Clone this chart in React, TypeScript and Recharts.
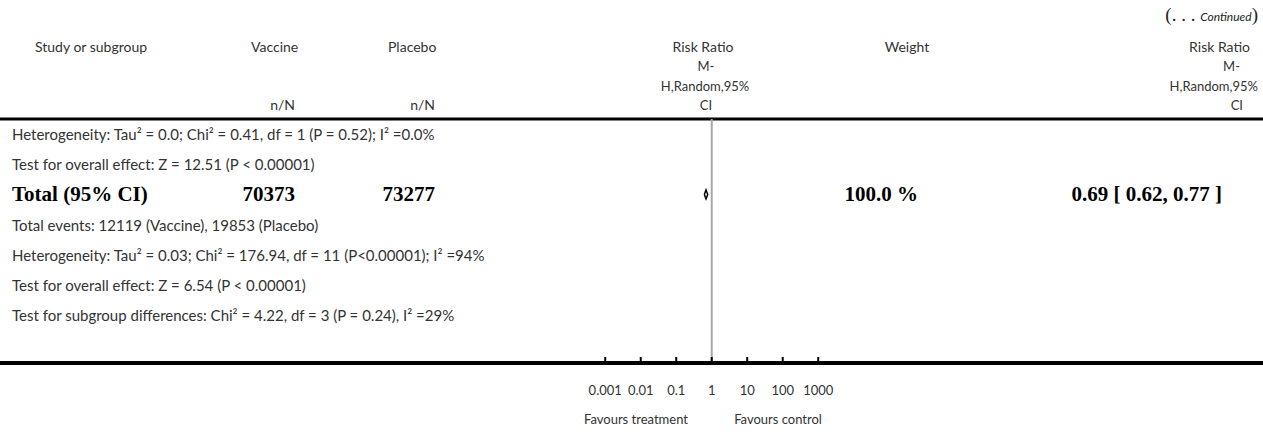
import React from "react";
import { ComposedChart, XAxis, YAxis, ReferenceLine, Line } from "recharts";

// log10 risk-ratio ticks and their labels
const TICKS = [-3, -2, -1, 0, 1, 2, 3];
const TICK_LABELS = ["0.001", "0.01", "0.1", "1", "10", "100", "1000"];

// summary (text) rows, by row index
const noteRows = [0, 1, 3, 4, 5, 6];
const noteTexts = [
  "Heterogeneity: Tau² = 0.0; Chi² = 0.41, df = 1 (P = 0.52); I² =0.0%",
  "Test for overall effect: Z = 12.51 (P < 0.00001)",
  "Total events: 12119 (Vaccine), 19853 (Placebo)",
  "Heterogeneity: Tau² = 0.03; Chi² = 176.94, df = 11 (P<0.00001); I² =94%",
  "Test for overall effect: Z = 6.54 (P < 0.00001)",
  "Test for subgroup differences: Chi² = 4.22, df = 3 (P = 0.24), I² =29%",
];

// overall total row
const totalRow = 2;
const totalLabel = "Total (95% CI)";
const totalVaccine = 70373;
const totalPlacebo = 73277;
const totalWeight = 100.0;
const totalRR = 0.69;
const totalLow = 0.62;
const totalHigh = 0.77;

const W = 1263;
const H = 432;
const PLOT_TOP = 119;
const AXIS_H = 69;
const X_DOMAIN = [-20.05, 15.53];
const Y_DOMAIN = [-0.5, 7.59];
const DIAMOND_HALF = 0.15;

const sans = "Lato, 'Open Sans', sans-serif";
const serif = "'Liberation Serif', 'Times New Roman', serif";

const rowY = (r: number) =>
  PLOT_TOP + ((r - Y_DOMAIN[0]) / (Y_DOMAIN[1] - Y_DOMAIN[0])) * (H - AXIS_H - PLOT_TOP);

const diamond = [
  { x: Math.log10(totalLow), y: totalRow },
  { x: Math.log10(totalRR), y: totalRow - DIAMOND_HALF },
  { x: Math.log10(totalHigh), y: totalRow },
  { x: Math.log10(totalRR), y: totalRow + DIAMOND_HALF },
  { x: Math.log10(totalLow), y: totalRow },
];

const TickMark = (props: any) => {
  const { x, y, payload, index } = props;
  return (
    <g>
      <line x1={x} x2={x} y1={y - 6} y2={y - 1} stroke="#000" strokeWidth={2} />
      <text x={x} y={y + 29} textAnchor="middle" dominantBaseline="middle" fontSize={13} fontFamily={sans} fill="#333">
        {TICK_LABELS[index] ?? String(payload.value)}
      </text>
    </g>
  );
};

type TxtProps = { x: number; y: number; align?: "left" | "center" | "right"; style?: React.CSSProperties; children: React.ReactNode };
const Txt = ({ x, y, align = "left", style, children }: TxtProps) => {
  const tx = align === "left" ? "0" : align === "center" ? "-50%" : "-100%";
  return (
    <div
      style={{
        position: "absolute", left: x, top: y, transform: `translate(${tx}, -50%)`,
        whiteSpace: "nowrap", lineHeight: 1, fontFamily: sans, fontSize: 15, color: "#333",
        ...style,
      }}
    >
      {children}
    </div>
  );
};

const bold: React.CSSProperties = { fontFamily: serif, fontWeight: 700, fontSize: 21, color: "#000" };
const head: React.CSSProperties = { fontSize: 14 };
const stack: React.CSSProperties = { fontSize: 13 };

export default function App() {
  const ty = rowY(totalRow);
  return (
    <div style={{ position: "absolute", left: 0, top: 0, width: W, height: H, background: "#fff" }}>
      <ComposedChart width={W} height={H} margin={{ top: PLOT_TOP, right: 0, bottom: 0, left: 0 }}>
        <XAxis
          type="number"
          dataKey="x"
          domain={X_DOMAIN}
          allowDataOverflow
          ticks={TICKS}
          interval={0}
          height={AXIS_H}
          tickSize={0}
          tickMargin={0}
          tickLine={false}
          axisLine={{ stroke: "#000", strokeWidth: 4 }}
          tick={<TickMark />}
        />
        <YAxis type="number" dataKey="y" domain={Y_DOMAIN} reversed hide allowDataOverflow />
        <ReferenceLine y={Y_DOMAIN[0]} stroke="#000" strokeWidth={3} />
        <ReferenceLine x={0} stroke="#a6a6a6" strokeWidth={2} />
        <Line
          data={diamond}
          dataKey="y"
          type="linear"
          stroke="#000"
          strokeWidth={1.5}
          dot={false}
          isAnimationActive={false}
        />
      </ComposedChart>

      {/* continued marker */}
      <Txt x={1258} y={14} align="right" style={{ fontFamily: serif, fontSize: 19, color: "#222" }}>
        (. . . <span style={{ fontFamily: sans, fontStyle: "italic", fontSize: 12 }}>Continued</span>)
      </Txt>

      {/* header */}
      <Txt x={35} y={47} style={head}>Study or subgroup</Txt>
      <Txt x={251} y={47} style={head}>Vaccine</Txt>
      <Txt x={388} y={47} style={head}>Placebo</Txt>
      <Txt x={295} y={105} align="right" style={head}>n/N</Txt>
      <Txt x={435} y={105} align="right" style={head}>n/N</Txt>
      <Txt x={703} y={47} align="center" style={head}>Risk Ratio</Txt>
      <Txt x={706} y={66} align="center" style={stack}>M-</Txt>
      <Txt x={705} y={86} align="center" style={stack}>H,Random,95%</Txt>
      <Txt x={706} y={105} align="center" style={stack}>CI</Txt>
      <Txt x={907} y={47} align="center" style={head}>Weight</Txt>
      <Txt x={1250} y={47} align="right" style={head}>Risk Ratio</Txt>
      <Txt x={1240} y={66} align="right" style={stack}>M-</Txt>
      <Txt x={1258} y={86} align="right" style={stack}>H,Random,95%</Txt>
      <Txt x={1243} y={105} align="right" style={stack}>CI</Txt>

      {/* summary notes */}
      {noteTexts.map((t, i) => (
        <Txt key={i} x={12} y={rowY(noteRows[i])}>{t}</Txt>
      ))}

      {/* total row */}
      <Txt x={12} y={ty} style={bold}>{totalLabel}</Txt>
      <Txt x={295} y={ty} align="right" style={bold}>{totalVaccine}</Txt>
      <Txt x={435} y={ty} align="right" style={bold}>{totalPlacebo}</Txt>
      <Txt x={918} y={ty} align="right" style={bold}>{totalWeight.toFixed(1)} %</Txt>
      <Txt x={1222} y={ty} align="right" style={bold}>
        {totalRR.toFixed(2)} [ {totalLow.toFixed(2)}, {totalHigh.toFixed(2)} ]
      </Txt>

      {/* favours labels */}
      <Txt x={636} y={419} align="center" style={{ fontSize: 13 }}>Favours treatment</Txt>
      <Txt x={778} y={419} align="center" style={{ fontSize: 13 }}>Favours control</Txt>
    </div>
  );
}
